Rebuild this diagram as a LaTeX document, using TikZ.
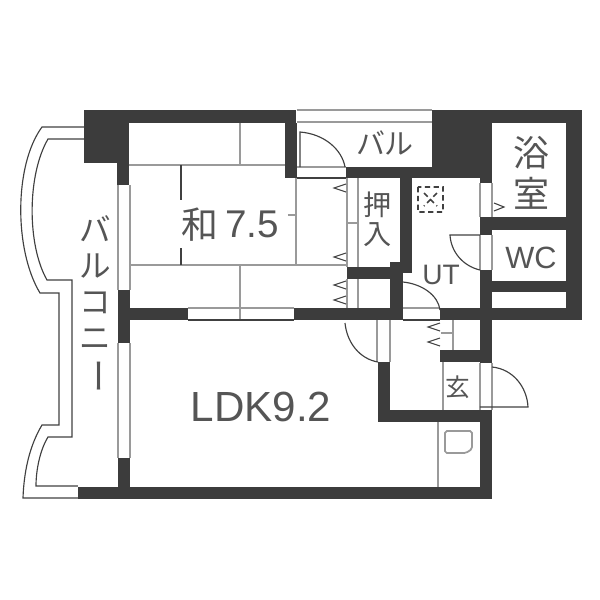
\documentclass[tikz,border=0pt]{standalone}
\usepackage{fontspec}
\setmainfont{Liberation Sans}
\newfontfamily\cjk{Noto Sans CJK JP}
\definecolor{wallgray}{HTML}{3C3C3C}
\definecolor{linegray}{HTML}{9A9A9A}
\definecolor{textgray}{HTML}{555555}
\begin{document}
\begin{tikzpicture}[x=0.02cm, y=-0.02cm,
    wall/.style={fill=wallgray, draw=none},
    thin line/.style={draw=black!75, line width=0.65pt},
    soft line/.style={draw=linegray, line width=0.8pt},
    label/.style={inner sep=0pt, text=textgray}]
    \useasboundingbox (0,0) rectangle (600,600);
    % walls
    \foreach \xa/\ya/\xb/\yb in {84/110/129/163, 117/163/129/185, 129/110/296/123, 285/123/297/178,
        346/167/432/178, 432/110/480/178, 480/110/582/123, 480/123/492/183, 566/123/582/320,
        480/217/582/230, 480/217/492/235, 480/270/492/363, 480/281/582/292, 118/290/130/343,
        130/308/188/320, 294/308/403/320, 440/308/582/320, 400/178/412/273, 347/267/400/279,
        390/262/403/320, 440/350/492/362, 378/362/390/422, 378/410/492/422, 480/410/492/499,
        78/487/492/499, 118/458/130/487}
        \fill[wall] (\xa,\ya) rectangle (\xb,\yb);
    % balcony
    \draw[thin line] (84,127) -- (42,127) .. controls (14,165) and (14,250) .. (40,293)
        -- (59,293) -- (59,425) -- (42,425) .. controls (30,445) and (24,470) .. (23,498) -- (78,498);
    \draw[thin line] (84,139) -- (48,139) .. controls (27,175) and (27,245) .. (47,280)
        -- (72,280) -- (72,437) -- (48,437) .. controls (40,450) and (36,470) .. (36,486) -- (78,486);
    % windows and frames
    \foreach \xa/\xb/\ya/\yb in {118/130/185/290, 118/130/343/458, 480/492/183/217, 480/492/235/270,
        377/390/320/362, 480/492/363/410, 347/358/178/267, 347/358/279/308}
        \draw[soft line] (\xa,\ya) -- (\xa,\yb) (\xb,\ya) -- (\xb,\yb);
    \draw[soft line] (297,110) -- (432,110) (297,122) -- (432,122) (297,167) -- (346,167);
    \draw[thin line] (297,178) -- (346,178);
    \draw[soft line] (188,308) -- (294,308) (240,308) -- (240,320);
    \draw[thin line] (188,320) -- (294,320) (403,320) -- (440,320);
    \draw[soft line] (403,308) -- (440,308) (347,223) -- (358,223);
    % tatami
    \draw[soft line] (129,165) -- (285,165) (130,265) -- (347,265) (296,178) -- (296,265)
        (240,123) -- (240,165) (240,265) -- (240,308) (288,215) -- (296,215);
    \draw[thin line] (181,165) -- (181,200) (181,248) -- (181,265);
    % kitchen and entrance
    \draw[soft line] (438,422) -- (438,487) (443,362) -- (443,410)
        (453,320) -- (453,350) (441,333) -- (453,333);
    \draw[soft line, rounded corners=1pt, line width=1pt] (445,431) -- (472,431) -- (472,449)
        -- (466,453) -- (445,453) -- cycle;
    % doors
    \draw[thin line] (300,167) -- (300,132) .. controls (325,134) and (342,150) .. (345,167);
    \draw[thin line] (480,235) -- (450,235) .. controls (451,252) and (463,266) .. (480,270);
    \draw[thin line] (403,282) .. controls (422,284) and (438,295) .. (440,310);
    \draw[thin line] (345,323) .. controls (347,343) and (360,359) .. (378,362);
    \draw[thin line] (480,407) -- (528,407) .. controls (527,387) and (513,369) .. (492,367);
    % fold marks
    \foreach \xt/\yt in {346/188, 346/257, 346/285, 346/300, 440/327, 440/342}
        \draw[thin line, line width=0.6pt] (\xt,\yt-4) -- (\xt-12,\yt) -- (\xt,\yt+4);
    \draw[thin line, line width=0.6pt] (494,203) -- (504,207) -- (494,211);
    % vent
    \draw[thin line, densely dashed, line width=0.9pt] (418,187) rectangle (443,212)
        (424,193) -- (437,206) (437,193) -- (424,206);
    % labels
    \node[label, font=\cjk\fontsize{18}{20.5}\selectfont, align=center] (balconyText) at (95,283) {バ\\ル\\コ\\ニ};
    \node[label, font=\cjk\fontsize{20}{20}\selectfont, rotate=-90] (balconyBar) at (93,376) {ー};
    \node[label, font=\cjk\fontsize{21}{24}\selectfont, anchor=west] (washitsu) at (181,225) {和};
    \node[label, font=\fontsize{22}{26}\selectfont, anchor=west] (washitsuSize) at (225,224) {7.5};
    \node[label, font=\fontsize{24}{28}\selectfont] (ldk) at (261,407) {LDK9.2};
    \node[label, font=\cjk\fontsize{16.5}{19}\selectfont] (bal) at (385,143) {バル};
    \node[label, font=\cjk\fontsize{20.5}{23}\selectfont, align=center] (bath) at (532,173) {浴\\室};
    \node[label, font=\cjk\fontsize{16}{16.5}\selectfont, align=center] (closet) at (378,219) {押\\入};
    \node[label, font=\fontsize{17.5}{20}\selectfont] (wc) at (531,258) {WC};
    \node[label, font=\fontsize{16}{19}\selectfont] (ut) at (441,275) {UT};
    \node[label, font=\cjk\fontsize{14}{16}\selectfont] (genkan) at (458,387) {玄};
\end{tikzpicture}
\end{document}
